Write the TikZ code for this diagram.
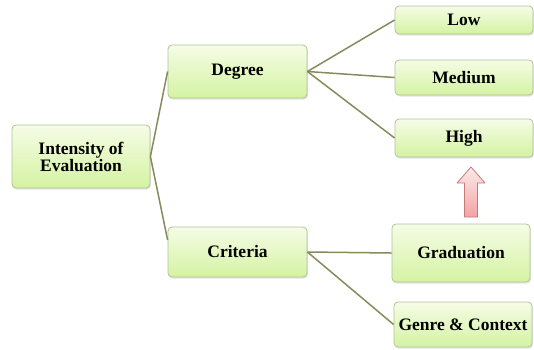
\documentclass[tikz,border=0pt]{standalone}
\usepackage{fontspec}
\setmainfont{Liberation Serif}
\usetikzlibrary{shadows}
\definecolor{boxtop}{HTML}{F5FCE6}
\definecolor{boxbot}{HTML}{D4F3A2}
\definecolor{boxline}{HTML}{B3C29A}
\definecolor{linkline}{HTML}{858C5C}
\definecolor{arrtop}{HTML}{FDEAEA}
\definecolor{arrbot}{HTML}{F4A2A2}
\definecolor{arrline}{HTML}{C27A7A}
\begin{document}
\begin{tikzpicture}[x=1pt,y=-1pt,
  topic/.style={draw=boxline, line width=0.8pt, rounded corners=4pt,
    top color=boxtop, bottom color=boxbot, inner sep=0pt,
    align=center, font=\fontsize{17.5}{17}\selectfont\bfseries,
    drop shadow={opacity=0.22, shadow xshift=1pt, shadow yshift=-1.5pt}},
  link/.style={draw=linkline, line width=1.5pt}]
\useasboundingbox (0,0) rectangle (534,349);

% nodes of the tree
\node[topic, minimum width=138pt, minimum height=63pt] (int) at (81,156.5) {Intensity of\\Evaluation};
\node[topic, minimum width=139pt, minimum height=53pt] (deg) at (237.5,71.5) {Degree};
\node[topic, minimum width=139pt, minimum height=50pt] (crit) at (237.5,252) {Criteria};
\node[topic, minimum width=138pt, minimum height=28pt] (low) at (464,20) {Low};
\node[topic, minimum width=138pt, minimum height=35pt] (med) at (464,77.5) {Medium};
\node[topic, minimum width=138pt, minimum height=38pt] (high) at (464,138) {High};
\node[topic, minimum width=138pt, minimum height=58pt] (grad) at (461,253) {Graduation};
\node[topic, minimum width=138pt, minimum height=45pt] (genre) at (463,324.5) {Genre \& Context};

% branches
\coordinate (critin) at ([yshift=12pt]crit.west);
\draw[link] (deg.west) -- (int.east) -- (critin);
\draw[link] (deg.east) -- (low.west);
\draw[link] (deg.east) -- (med.west);
\draw[link] (deg.east) -- (high.west);
\draw[link] (crit.east) -- (grad.west);
\draw[link] (crit.east) -- (genre.west);

% upward block arrow from Graduation to High
\draw[draw=arrline, line width=0.8pt, top color=arrtop, bottom color=arrbot, line join=round]
  (464.5,217) -- (477.5,217) -- (477.5,183) -- (485,183) -- (471,167)
  -- (457,183) -- (464.5,183) -- cycle;
\end{tikzpicture}
\end{document}
